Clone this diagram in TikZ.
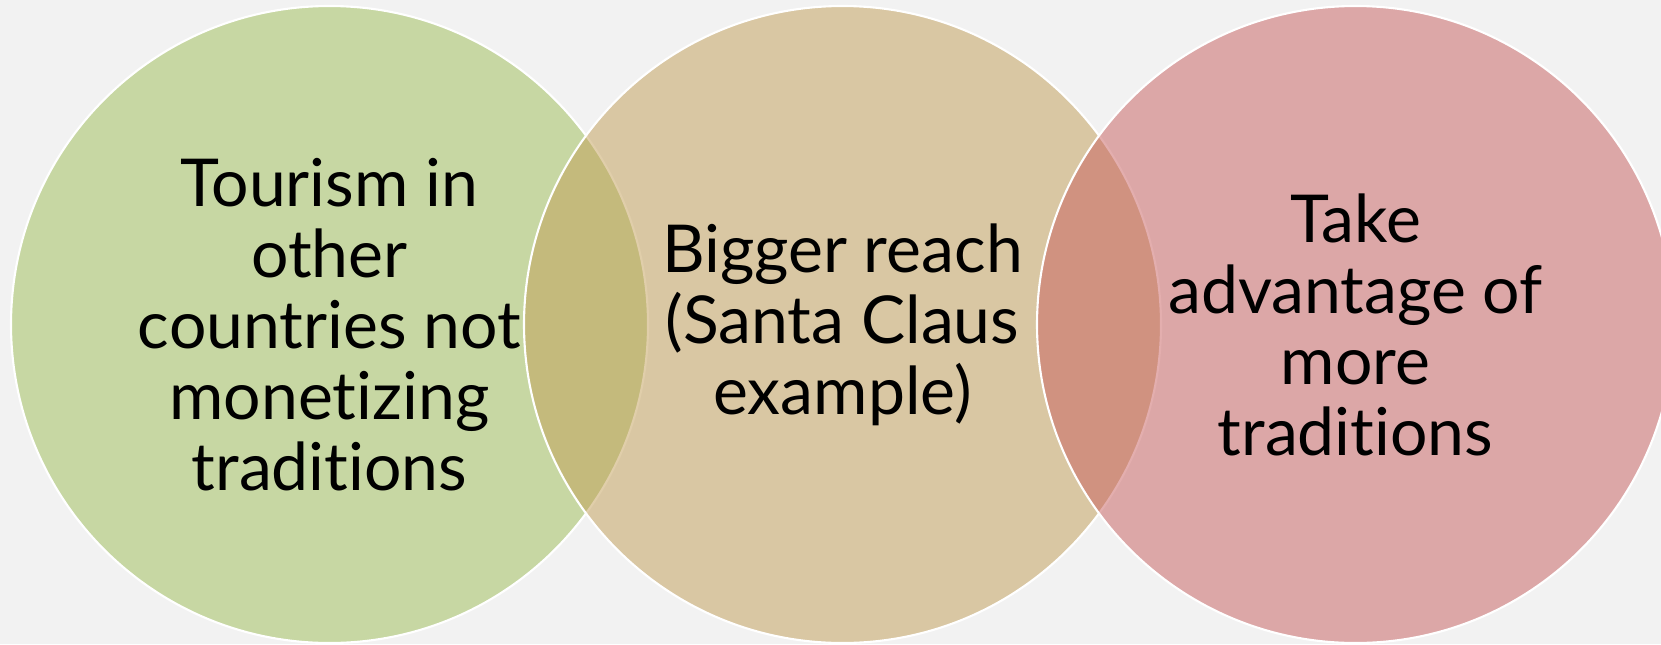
\documentclass[tikz,border=0pt]{standalone}
\usepackage{fontspec}
\setmainfont{Lato}[Ligatures=NoCommon]
\usetikzlibrary{positioning}
\definecolor{bgGray}{HTML}{F2F2F2}
\definecolor{vennGreen}{HTML}{9EBE56}
\definecolor{vennTan}{HTML}{C29E56}
\definecolor{vennRed}{HTML}{C85E5E}
\def\csep{51.3mm}
\def\cyc{-32.45mm}

\begin{document}
\begin{tikzpicture}[
    venn/.style={
      circle,
      minimum size=63.7mm,
      inner sep=0pt,
      draw=white,
      line width=0.6pt,
      fill opacity=0.5,
      text opacity=1,
      align=center,
      font=\fontsize{18.8}{20.2}\selectfont
    }
  ]
    % page
    \fill[bgGray] (0,0) rectangle (166.1mm,-64.4mm);
    \useasboundingbox (0,0) rectangle (166.1mm,-64.4mm);

    % circles, left to right
    \node[venn,fill=vennGreen] (Tourism) at (32.95mm+0*\csep,\cyc)
      {Tourism in\\other\\countries not\\monetizing\\traditions};
    \node[venn,fill=vennTan]   (Reach)   at (32.95mm+1*\csep,\cyc)
      {Bigger reach\\(Santa Claus\\example)};
    \node[venn,fill=vennRed]   (Take)    at (32.95mm+2*\csep,\cyc)
      {Take\\advantage of\\more\\traditions};
  \end{tikzpicture}
\end{document}
